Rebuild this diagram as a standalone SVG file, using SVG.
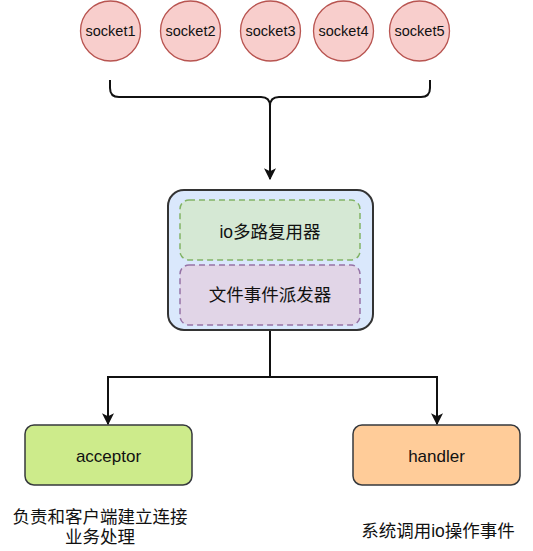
<svg xmlns="http://www.w3.org/2000/svg" width="533" height="551" viewBox="0 0 533 551">
<style>
.sock circle{fill:#f8cecc;stroke:#b85450;stroke-width:1.3}
.t{font-family:"Liberation Sans","Noto Sans CJK SC",sans-serif;fill:#111;text-anchor:middle;dominant-baseline:central}
.s{font-size:14.5px}
.l{font-size:17px}
.c{font-size:17.5px}
.edge{fill:none;stroke:#111;stroke-width:2}
</style>
<defs>
<marker id="ah" viewBox="0 0 10 10" refX="9" refY="5" markerWidth="6" markerHeight="6" markerUnits="strokeWidth" orient="auto">
<path d="M0,0 L10,5 L0,10 L2.5,5 Z" fill="#111"/>
</marker>
</defs>
<g id="socket1" class="sock"><circle cx="110.5" cy="31" r="30"/><text class="t s" x="110.5" y="31">socket1</text></g>
<g id="socket2" class="sock"><circle cx="190.5" cy="31" r="30"/><text class="t s" x="190.5" y="31">socket2</text></g>
<g id="socket3" class="sock"><circle cx="270.5" cy="31" r="30"/><text class="t s" x="270.5" y="31">socket3</text></g>
<g id="socket4" class="sock"><circle cx="343.5" cy="31" r="30"/><text class="t s" x="343.5" y="31">socket4</text></g>
<g id="socket5" class="sock"><circle cx="419.5" cy="31" r="30"/><text class="t s" x="419.5" y="31">socket5</text></g>
<g id="container">
<rect x="168" y="190" width="205" height="140" rx="16" fill="#dae8fc" stroke="#333" stroke-width="2"/>
</g>
<g id="multiplexer">
<rect x="180" y="200" width="180" height="60" rx="9" fill="#d5e8d4" stroke="#82b366" stroke-width="1.5" stroke-dasharray="6,4"/>
<text class="t c" x="270" y="232">io多路复用器</text>
</g>
<g id="dispatcher">
<rect x="180" y="265" width="180" height="60" rx="9" fill="#e1d5e7" stroke="#9673a6" stroke-width="1.5" stroke-dasharray="6,4"/>
<text class="t c" x="270" y="295">文件事件派发器</text>
</g>
<g id="acceptor">
<rect x="25" y="425" width="167" height="60" rx="9" fill="#cdeb8b" stroke="#36393d" stroke-width="1.5"/>
<text class="t l" x="108.5" y="456">acceptor</text>
</g>
<g id="handler">
<rect x="353" y="425" width="167" height="60" rx="9" fill="#ffcc99" stroke="#36393d" stroke-width="1.5"/>
<text class="t l" x="436.5" y="456">handler</text>
</g>
<g id="connectors">
<path class="edge" d="M110,80 L110,88 Q110,97 119,97 L261,97 Q270,97 270,106 Q270,97 279,97 L421,97 Q430,97 430,88 L430,80"/>
<path class="edge" d="M270,104 L270,179" marker-end="url(#ah)"/>
<path class="edge" d="M270,331 L270,377 L108,377 L108,424" marker-end="url(#ah)"/>
<path class="edge" d="M270,377 L437,377 L437,424" marker-end="url(#ah)"/>
</g>
<g id="labels">
<text class="t c" x="100" y="517">负责和客户端建立连接</text>
<text class="t c" x="100" y="537">业务处理</text>
<text class="t c" x="438" y="531">系统调用io操作事件</text>
</g>
</svg>
